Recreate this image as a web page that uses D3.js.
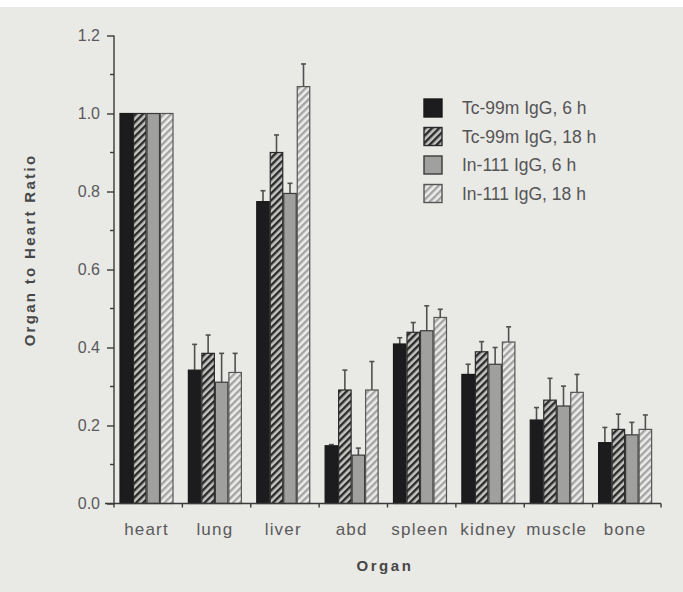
<!DOCTYPE html>
<html>
<head>
<meta charset="utf-8">
<script src="https://cdn.jsdelivr.net/npm/d3@7"></script>
<style>
  body { margin: 0; background: #fff; }
  svg { display: block; font-family: "Liberation Sans", Arial, sans-serif; }
</style>
</head>
<body>
<svg id="chart" width="683" height="592"></svg>
<script>
const organs = ["heart", "lung", "liver", "abd", "spleen", "kidney", "muscle", "bone"];
const seriesNames = ["Tc-99m IgG, 6 h", "Tc-99m IgG, 18 h", "In-111 IgG, 6 h", "In-111 IgG, 18 h"];

const tc6 = [1.0, 0.342, 0.774, 0.148, 0.409, 0.331, 0.214, 0.156];
const tc6Err = [0, 0.066, 0.028, 0.003, 0.016, 0.026, 0.032, 0.039];
const tc18 = [1.0, 0.385, 0.900, 0.291, 0.439, 0.389, 0.265, 0.190];
const tc18Err = [0, 0.047, 0.045, 0.051, 0.025, 0.026, 0.056, 0.039];
const in6 = [1.0, 0.311, 0.795, 0.124, 0.443, 0.357, 0.250, 0.176];
const in6Err = [0, 0.074, 0.026, 0.018, 0.064, 0.043, 0.051, 0.032];
const in18 = [1.0, 0.336, 1.069, 0.291, 0.477, 0.414, 0.285, 0.190];
const in18Err = [0, 0.049, 0.058, 0.073, 0.021, 0.039, 0.046, 0.037];

const yTicks = [0, 0.2, 0.4, 0.6, 0.8, 1.0, 1.2];
const yMinorTicks = [0.1, 0.3, 0.5, 0.7, 0.9, 1.1];

const seriesValues = [tc6, tc18, in6, in18];
const seriesErrors = [tc6Err, tc18Err, in6Err, in18Err];

const svg = d3.select("#chart");
const textColor = "#474747";
const axisColor = "#3a3a3a";

// paper background with white strip on top
svg.append("rect").attr("x", 0).attr("y", 7).attr("width", 683).attr("height", 585).attr("fill", "#e9e9e6");

// hatch patterns
const defs = svg.append("defs");
function hatch(id, bg, fg) {
    const p = defs.append("pattern").attr("id", id)
    .attr("patternUnits", "userSpaceOnUse").attr("width", 5).attr("height", 5)
    .attr("patternTransform", "rotate(45)");
    p.append("rect").attr("width", 5).attr("height", 5).attr("fill", bg);
    p.append("rect").attr("width", 2.4).attr("height", 5).attr("fill", fg);
}
hatch("hatchDark", "#c4c4c2", "#2a2a2a");
hatch("hatchLight", "#ececea", "#a4a4a2");

const fills = ["#1c1c1e", "url(#hatchDark)", "#a0a09e", "url(#hatchLight)"];
const strokes = ["#1a1a1a", "#2a2a2a", "#3a3a3a", "#555"];

const y = d3.scaleLinear().domain([0, 1.2]).range([503.5, 35.5]);
const x0 = d3.scaleBand().domain(organs).range([114, 661]).padding(0);
const x1 = d3.scaleBand().domain(d3.range(seriesNames.length)).range([5.5, 59.5]).padding(0);

// bars
const groups = svg.selectAll(".organ").data(organs).join("g")
.attr("class", "organ")
.attr("transform", d => `translate(${x0(d)},0)`);

const barData = (organ, oi) => seriesValues.map((vals, si) => ({ si, value: vals[oi], err: seriesErrors[si][oi] }));

groups.each(function(organ, oi) {
    const g = d3.select(this);
    const data = barData(organ, oi);

    g.selectAll(".err").data(data.filter(d => d.err > 0)).join("g").attr("class", "err")
    .each(function(d) {
        const e = d3.select(this);
        const cx = x1(d.si) + x1.bandwidth() / 2;
        e.append("line").attr("x1", cx).attr("x2", cx)
        .attr("y1", y(d.value)).attr("y2", y(d.value + d.err))
        .attr("stroke", "#505050").attr("stroke-width", 1.6);
        e.append("line").attr("x1", cx - 2.5).attr("x2", cx + 2.5)
        .attr("y1", y(d.value + d.err)).attr("y2", y(d.value + d.err))
        .attr("stroke", "#505050").attr("stroke-width", 1.6);
    });

    g.selectAll(".bar").data(data).join("rect").attr("class", "bar")
    .attr("x", d => x1(d.si) + 0.5)
    .attr("width", x1.bandwidth() - 1)
    .attr("y", d => y(d.value))
    .attr("height", d => y(0) - y(d.value))
    .attr("fill", d => fills[d.si])
    .attr("stroke", d => strokes[d.si])
    .attr("stroke-width", 1.2);
});

// y axis
const yAxis = d3.axisLeft(y).tickValues(yTicks).tickFormat(d3.format(".1f")).tickSize(7).tickPadding(7);
const gY = svg.append("g").attr("transform", "translate(114,0)").call(yAxis);
gY.select(".domain").attr("stroke", axisColor).attr("stroke-width", 1.4).attr("d", `M0,${y(0)}V${y(1.2)}`);
gY.selectAll(".tick line").attr("stroke", axisColor).attr("stroke-width", 1.4);
gY.selectAll(".tick text").attr("fill", "#5a5a5a").style("font-size", "16px");
gY.selectAll(".minor").data(yMinorTicks).join("line").attr("class", "minor")
.attr("x1", -4).attr("x2", 0).attr("y1", d => y(d)).attr("y2", d => y(d))
.attr("stroke", axisColor).attr("stroke-width", 1.4);

// x axis
svg.append("line").attr("x1", 105).attr("x2", 661).attr("y1", y(0)).attr("y2", y(0))
.attr("stroke", axisColor).attr("stroke-width", 1.4);
const boundaries = organs.map(d => x0(d)).concat([x0.range()[1]]);
svg.selectAll(".xtick").data(boundaries).join("line").attr("class", "xtick")
.attr("x1", d => d).attr("x2", d => d).attr("y1", y(0)).attr("y2", y(0) + 4)
.attr("stroke", axisColor).attr("stroke-width", 1.4);
svg.selectAll(".xlabel").data(organs).join("text").attr("class", "xlabel")
.attr("x", d => x0(d) + (x1.range()[0] + x1.range()[1]) / 2)
.attr("y", 535)
.attr("text-anchor", "middle")
.attr("fill", "#5a5a5a")
.style("font-size", "17px")
.style("letter-spacing", "1.2px")
.text(d => d);

// axis titles
svg.append("text").attr("x", 385).attr("y", 571).attr("text-anchor", "middle")
.attr("fill", textColor).style("font-size", "15px").style("font-weight", "bold")
.style("letter-spacing", "2.6px").text("Organ");
svg.append("text").attr("transform", "translate(35,250) rotate(-90)").attr("text-anchor", "middle")
.attr("fill", textColor).style("font-size", "15px").style("font-weight", "bold")
.style("letter-spacing", "2.3px").text("Organ to Heart Ratio");

// legend
const legend = svg.append("g").attr("transform", "translate(424,99)");
const items = legend.selectAll(".item").data(seriesNames).join("g").attr("class", "item")
.attr("transform", (d, i) => `translate(0,${i * 28.5})`);
items.append("rect").attr("width", 18).attr("height", 18)
.attr("fill", (d, i) => fills[i]).attr("stroke", (d, i) => strokes[i]).attr("stroke-width", 1.4);
items.append("text").attr("x", 38).attr("y", 15)
.attr("fill", "#555").style("font-size", "17.5px").text(d => d);
</script>
</body>
</html>
